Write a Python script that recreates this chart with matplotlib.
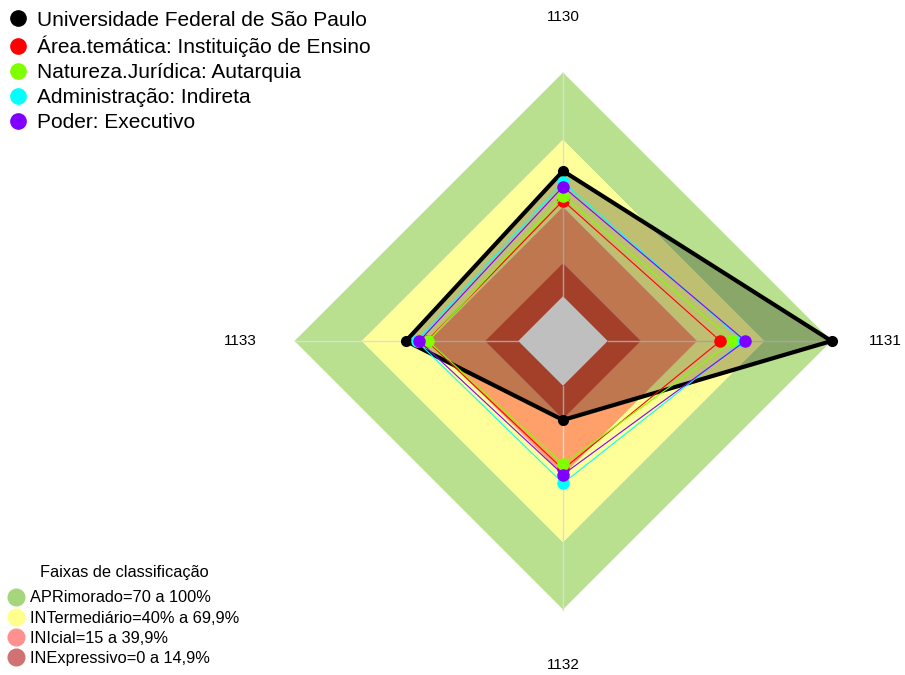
import numpy as np
import matplotlib.pyplot as plt
from matplotlib.lines import Line2D

plt.rcParams['font.family'] = ['Liberation Sans', 'DejaVu Sans']

# eixos do radar (sentido horario a partir do topo)
categories = ["1130", "1131", "1132", "1133"]

# valores em % por eixo
series_names = ["Universidade Federal de São Paulo",
                "Área.temática: Instituição de Ensino",
                "Natureza.Jurídica: Autarquia",
                "Administração: Indireta",
                "Poder: Executivo"]
unifesp = [56.0, 100.0, 15.3, 50.2]
area_tematica = [42.7, 50.3, 37.3, 40.8]
natureza_juridica = [44.8, 56.1, 35.1, 40.3]
administracao = [51.0, 60.5, 43.6, 45.4]
poder = [49.0, 61.5, 39.7, 44.2]
series_values = [unifesp, area_tematica, natureza_juridica, administracao, poder]
series_colors = ["black", "#ff0000", "#80ff00", "#00ffff", "#8000ff"]

# faixas de classificacao
band_labels = ["APRimorado=70 a 100%", "INTermediário=40% a 69,9%",
               "INIcial=15 a 39,9%", "INExpressivo=0 a 14,9%"]
band_upper = [100.0, 69.9, 39.9, 14.9]
band_fill = ["#b9e08e", "#ffff99", "#ffa06b", "#dc5537"]
band_legend = ["#a6d67c", "#ffff8c", "#ff9090", "#d07272"]

n_seg = 5
hole = 1.0 / (n_seg + 1)


def scale(v):
    # mesmo esquema do fmsb: centro vazio de raio 1/(seg+1)
    return hole + np.asarray(v) / 100.0 * (1 - hole)


angles = np.pi / 2 - np.arange(len(categories)) * 2 * np.pi / len(categories)


def to_xy(vals):
    r = scale(vals)
    return r * np.cos(angles), r * np.sin(angles)


W, H = 905, 675
cx, cy, R = 563, 341, 268.5
fig = plt.figure(figsize=(W / 100, H / 100), dpi=100)
ax = fig.add_axes([0, 0, 1, 1])
ax.set_xlim(-cx / R, (W - cx) / R)
ax.set_ylim(-(H - cy) / R, cy / R)
ax.set_aspect('equal')
ax.axis('off')

# faixas como aneis (losangos)
lower = band_upper[1:] + [0.0]
for up, lo, col in zip(band_upper, lower, band_fill):
    xo, yo = to_xy([up] * 4)
    xi, yi = to_xy([lo] * 4)
    xs = np.r_[xo, xo[0], xi[0], xi[::-1]]
    ys = np.r_[yo, yo[0], yi[0], yi[::-1]]
    ax.fill(xs, ys, color=col, lw=0, zorder=1)

# raios
for a in angles:
    ax.plot([hole * np.cos(a), np.cos(a)], [hole * np.sin(a), np.sin(a)],
            color="#dcdcdc", lw=1, zorder=2)

# series
for i, (vals, col) in enumerate(zip(series_values, series_colors)):
    x, y = to_xy(vals)
    if i == 0:
        ax.fill(x, y, color="black", alpha=0.25, lw=0, zorder=3)
        ax.plot(np.r_[x, x[0]], np.r_[y, y[0]], color=col, lw=3, zorder=4)
        ax.plot(x, y, 'o', color=col, ms=7, zorder=4)
    else:
        ax.plot(np.r_[x, x[0]], np.r_[y, y[0]], color=col, lw=0.8, zorder=5 + i)
        ax.plot(x, y, 'o', color=col, ms=8, zorder=5 + i)

# rotulos dos eixos
for a, lab in zip(angles, categories):
    ax.text(1.2 * np.cos(a), 1.205 * np.sin(a), lab, ha='center', va='center', fontsize=11)

# legenda das series
handles = [Line2D([], [], marker='o', ls='', color=c, ms=11) for c in series_colors]
fig.legend(handles, series_names, loc='upper left', bbox_to_anchor=(-0.005, 1.006),
           frameon=False, fontsize=15, handlelength=0.8, handletextpad=0.5,
           labelspacing=0.29, borderpad=0.2)

# legenda das faixas
handles2 = [Line2D([], [], marker='o', ls='', color=c, ms=12) for c in band_legend]
fig.legend(handles2, band_labels, loc='lower left', bbox_to_anchor=(0.001, 0.001),
           frameon=False, fontsize=11.8, handlelength=0.8, handletextpad=0.5,
           labelspacing=0.32, borderpad=0.0)
fig.text(124 / W, 1 - 572 / H, "Faixas de classificação", ha='center', va='center',
         fontsize=11.8)

fig.savefig("out.png", dpi=100)
